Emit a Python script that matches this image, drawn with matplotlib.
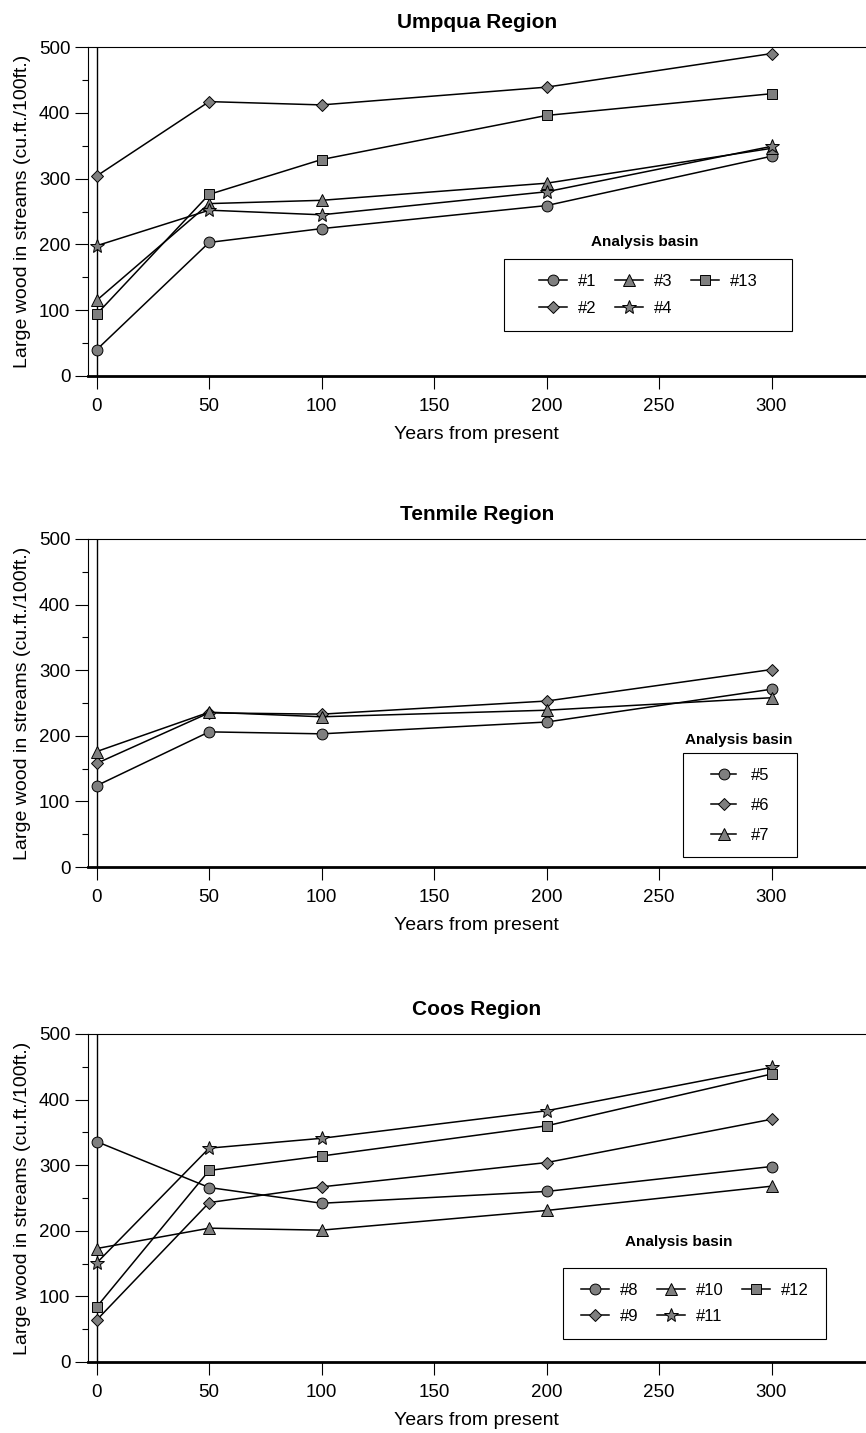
import matplotlib
matplotlib.use("Agg")
import matplotlib.pyplot as plt
from matplotlib.patches import Rectangle
from matplotlib.ticker import MultipleLocator

plt.rcParams['font.family'] = ['Liberation Sans', 'DejaVu Sans']

years = [0, 50, 100, 200, 300]

# Umpqua Region
b1 = [40, 203, 224, 259, 334]
b2 = [304, 417, 412, 439, 490]
b3 = [115, 262, 267, 293, 346]
b4 = [198, 252, 245, 280, 349]
b13 = [94, 276, 329, 396, 429]

# Tenmile Region
b5 = [124, 206, 203, 221, 271]
b6 = [158, 235, 233, 253, 301]
b7 = [176, 236, 229, 239, 258]

# Coos Region
b8 = [336, 266, 242, 260, 298]
b9 = [64, 243, 267, 304, 370]
b10 = [173, 204, 201, 231, 268]
b11 = [151, 326, 341, 383, 449]
b12 = [84, 292, 314, 360, 439]

y_ticks = [0, 100, 200, 300, 400, 500]
x_ticks = [0, 50, 100, 150, 200, 250, 300]

FILL = '#7f7f7f'
marker_size = {'o': 7.8, 'D': 5.8, '^': 8, '*': 10, 's': 7.5}

W, H = 866, 1433
fig = plt.figure(figsize=(W / 100, H / 100), dpi=100)


def make_axes(top_px, bot_px):
    left_px = 87.7
    return fig.add_axes([left_px / W, (H - bot_px) / H, (W - left_px) / W, (bot_px - top_px) / H])


def style_axes(ax, title):
    ax.set_xlim(-4, 342)
    ax.set_ylim(0, 500)
    ax.set_xticks(x_ticks)
    ax.set_yticks(y_ticks)
    ax.yaxis.set_minor_locator(MultipleLocator(50))
    ax.tick_params(axis='both', which='major', direction='out', length=9.5, width=0.8,
                   labelsize=13.5, pad=3)
    ax.tick_params(axis='y', which='minor', direction='out', length=4.5, width=0.8)
    ax.tick_params(axis='x', which='major', pad=6)
    ax.spines['right'].set_visible(False)
    ax.spines['left'].set_linewidth(0.8)
    ax.spines['top'].set_linewidth(0.8)
    ax.spines['bottom'].set_linewidth(2.0)
    ax.axvline(0, color='black', lw=1.0, zorder=1)
    ax.set_title(title, fontsize=15, fontweight='bold', pad=14)
    ax.set_xlabel("Years from present", fontsize=14, labelpad=8)
    ax.set_ylabel("Large wood in streams (cu.ft./100ft.)", fontsize=14, labelpad=6)


def plot_series(ax, values, marker, label):
    ax.plot(years, values, color='black', lw=1.1, marker=marker,
            markersize=marker_size[marker], markerfacecolor=FILL,
            markeredgecolor='black', markeredgewidth=0.7, label=label, zorder=3,
            clip_on=False)


def legend_box(ax, x0, y0, x1, y1, tx, ty, ncol, **kw):
    ax.add_patch(Rectangle((x0, y0), x1 - x0, y1 - y0, transform=ax.transAxes,
                           facecolor='white', edgecolor='black', lw=0.8, zorder=4))
    ax.text(tx, ty, "Analysis basin", transform=ax.transAxes, ha='center', va='center',
            fontsize=11, fontweight='bold')
    handles, labels = ax.get_legend_handles_labels()
    leg = ax.legend(handles, labels, loc='center', bbox_to_anchor=((x0 + x1) / 2, (y0 + y1) / 2),
                    bbox_transform=ax.transAxes, frameon=False, ncol=ncol, fontsize=12,
                    markerscale=1.0, **kw)
    leg.set_zorder(5)


# Panel 1
ax1 = make_axes(47, 376)
style_axes(ax1, "Umpqua Region")
for vals, m, lab in [(b1, 'o', '#1'), (b2, 'D', '#2'), (b3, '^', '#3'), (b4, '*', '#4'), (b13, 's', '#13')]:
    plot_series(ax1, vals, m, lab)
legend_box(ax1, 0.535, 0.137, 0.905, 0.356, 0.716, 0.407, 3,
           handlelength=1.7, handletextpad=0.65, columnspacing=1.1, labelspacing=0.7)

# Panel 2
ax2 = make_axes(539, 867)
style_axes(ax2, "Tenmile Region")
for vals, m, lab in [(b5, 'o', '#5'), (b6, 'D', '#6'), (b7, '^', '#7')]:
    plot_series(ax2, vals, m, lab)
legend_box(ax2, 0.765, 0.030, 0.911, 0.348, 0.836, 0.387, 1,
           handlelength=1.55, handletextpad=0.85, labelspacing=0.9)

# Panel 3
ax3 = make_axes(1034, 1362)
style_axes(ax3, "Coos Region")
for vals, m, lab in [(b8, 'o', '#8'), (b9, 'D', '#9'), (b10, '^', '#10'), (b11, '*', '#11'), (b12, 's', '#12')]:
    plot_series(ax3, vals, m, lab)
legend_box(ax3, 0.611, 0.070, 0.949, 0.287, 0.760, 0.366, 3,
           handlelength=1.7, handletextpad=0.65, columnspacing=1.1, labelspacing=0.7)

fig.savefig("out.png", dpi=100)
